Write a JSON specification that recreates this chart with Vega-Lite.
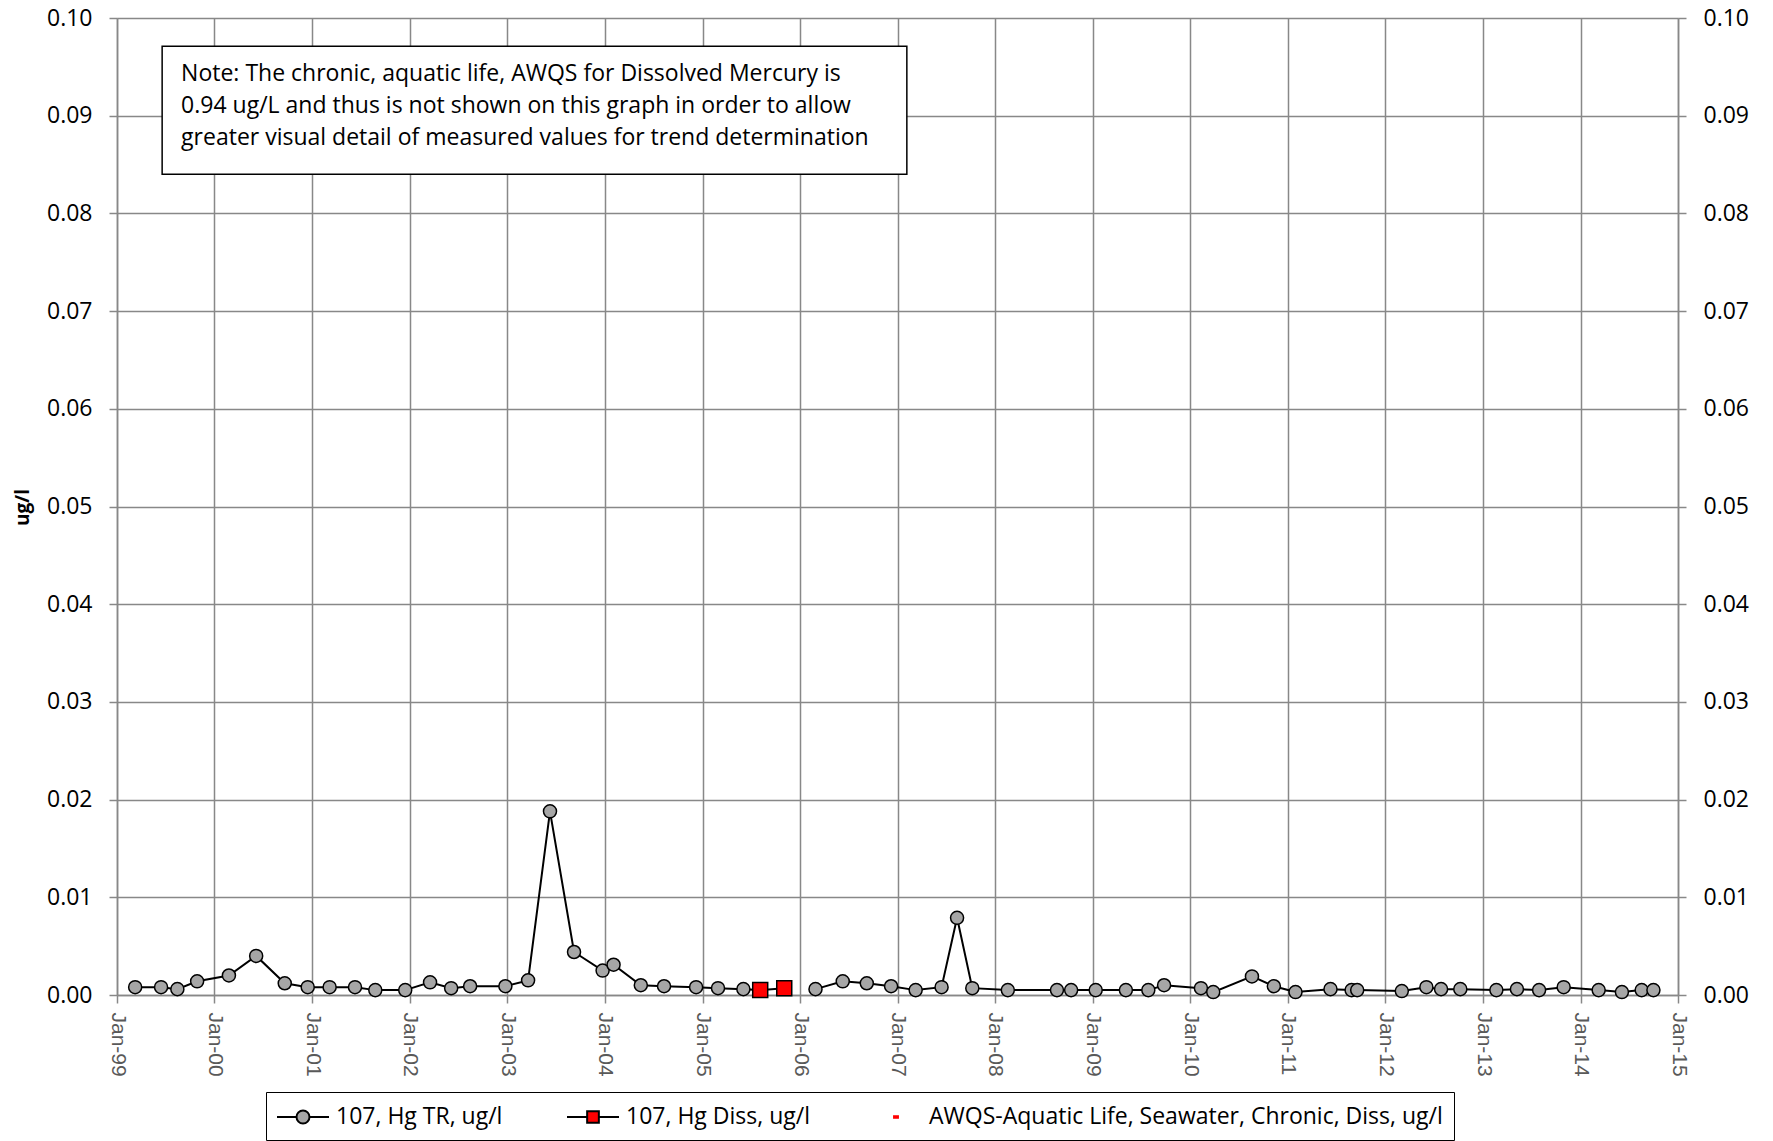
{
  "$schema": "https://vega.github.io/schema/vega-lite/v6.json",
  "width": 1561,
  "height": 977,
  "autosize": {"type": "none"},
  "padding": {"left": 117, "top": 18, "right": 95, "bottom": 146},
  "background": "white",
  "config": {
    "view": {"stroke": null},
    "font": "Open Sans",
    "axis": {
      "gridColor": "#888888", "gridWidth": 1.5, "gridOpacity": 1,
      "domainColor": "#888888", "domainWidth": 1.5,
      "tickColor": "#888888", "tickWidth": 1.5, "tickSize": 8
    },
    "axisX": {
      "labelAngle": 90, "labelAlign": "left", "labelBaseline": "middle",
      "labelFont": "Liberation Sans", "labelFontSize": 21, "labelColor": "#595959",
      "labelPadding": 9, "grid": true
    },
    "axisY": {
      "labelFont": "Open Sans", "labelFontSize": 23, "labelFontWeight": "normal", "labelColor": "black", "labelPadding": 17
    },
    "legend": {
      "orient": "none", "direction": "horizontal", "legendX": 149, "legendY": 1074,
      "padding": 11, "strokeColor": "black", "fillColor": "white",
      "columnPadding": 60,
      "labelFont": "Open Sans", "labelFontSize": 23, "labelColor": "black", "labelLimit": 800,
      "symbolSize": 676, "symbolOffset": 12, "labelOffset": 19, "symbolStrokeWidth": 2, "symbolOpacity": 1
    }
  },
  "data": {
    "values": [
      {"date": "1999-03-10", "value": 0.0008, "series": "107, Hg TR, ug/l"},
      {"date": "1999-06-15", "value": 0.0008, "series": "107, Hg TR, ug/l"},
      {"date": "1999-08-15", "value": 0.0006, "series": "107, Hg TR, ug/l"},
      {"date": "1999-10-28", "value": 0.0014, "series": "107, Hg TR, ug/l"},
      {"date": "2000-02-24", "value": 0.0020, "series": "107, Hg TR, ug/l"},
      {"date": "2000-06-05", "value": 0.0040, "series": "107, Hg TR, ug/l"},
      {"date": "2000-09-20", "value": 0.0012, "series": "107, Hg TR, ug/l"},
      {"date": "2000-12-15", "value": 0.0008, "series": "107, Hg TR, ug/l"},
      {"date": "2001-03-07", "value": 0.0008, "series": "107, Hg TR, ug/l"},
      {"date": "2001-06-10", "value": 0.0008, "series": "107, Hg TR, ug/l"},
      {"date": "2001-08-25", "value": 0.0005, "series": "107, Hg TR, ug/l"},
      {"date": "2001-12-15", "value": 0.0005, "series": "107, Hg TR, ug/l"},
      {"date": "2002-03-18", "value": 0.0013, "series": "107, Hg TR, ug/l"},
      {"date": "2002-06-05", "value": 0.0007, "series": "107, Hg TR, ug/l"},
      {"date": "2002-08-15", "value": 0.0009, "series": "107, Hg TR, ug/l"},
      {"date": "2002-12-25", "value": 0.0009, "series": "107, Hg TR, ug/l"},
      {"date": "2003-03-20", "value": 0.0015, "series": "107, Hg TR, ug/l"},
      {"date": "2003-06-10", "value": 0.0188, "series": "107, Hg TR, ug/l"},
      {"date": "2003-09-08", "value": 0.0044, "series": "107, Hg TR, ug/l"},
      {"date": "2003-12-24", "value": 0.0025, "series": "107, Hg TR, ug/l"},
      {"date": "2004-02-03", "value": 0.0031, "series": "107, Hg TR, ug/l"},
      {"date": "2004-05-15", "value": 0.0010, "series": "107, Hg TR, ug/l"},
      {"date": "2004-08-10", "value": 0.0009, "series": "107, Hg TR, ug/l"},
      {"date": "2004-12-08", "value": 0.0008, "series": "107, Hg TR, ug/l"},
      {"date": "2005-02-28", "value": 0.0007, "series": "107, Hg TR, ug/l"},
      {"date": "2005-06-03", "value": 0.0006, "series": "107, Hg TR, ug/l"},
      {"date": "2005-08-05", "value": 0.0005, "series": "107, Hg TR, ug/l"},
      {"date": "2005-11-03", "value": null, "series": "107, Hg TR, ug/l"},
      {"date": "2006-02-28", "value": 0.0006, "series": "107, Hg TR, ug/l"},
      {"date": "2006-06-10", "value": 0.0014, "series": "107, Hg TR, ug/l"},
      {"date": "2006-09-08", "value": 0.0012, "series": "107, Hg TR, ug/l"},
      {"date": "2006-12-08", "value": 0.0009, "series": "107, Hg TR, ug/l"},
      {"date": "2007-03-10", "value": 0.0005, "series": "107, Hg TR, ug/l"},
      {"date": "2007-06-15", "value": 0.0008, "series": "107, Hg TR, ug/l"},
      {"date": "2007-08-12", "value": 0.0079, "series": "107, Hg TR, ug/l"},
      {"date": "2007-10-08", "value": 0.0007, "series": "107, Hg TR, ug/l"},
      {"date": "2008-02-18", "value": 0.0005, "series": "107, Hg TR, ug/l"},
      {"date": "2008-08-20", "value": 0.0005, "series": "107, Hg TR, ug/l"},
      {"date": "2008-10-12", "value": 0.0005, "series": "107, Hg TR, ug/l"},
      {"date": "2009-01-12", "value": 0.0005, "series": "107, Hg TR, ug/l"},
      {"date": "2009-05-05", "value": 0.0005, "series": "107, Hg TR, ug/l"},
      {"date": "2009-07-28", "value": 0.0005, "series": "107, Hg TR, ug/l"},
      {"date": "2009-09-25", "value": 0.0010, "series": "107, Hg TR, ug/l"},
      {"date": "2010-02-10", "value": 0.0007, "series": "107, Hg TR, ug/l"},
      {"date": "2010-03-28", "value": 0.0003, "series": "107, Hg TR, ug/l"},
      {"date": "2010-08-20", "value": 0.0019, "series": "107, Hg TR, ug/l"},
      {"date": "2010-11-10", "value": 0.0009, "series": "107, Hg TR, ug/l"},
      {"date": "2011-01-30", "value": 0.0003, "series": "107, Hg TR, ug/l"},
      {"date": "2011-06-10", "value": 0.0006, "series": "107, Hg TR, ug/l"},
      {"date": "2011-08-28", "value": 0.0005, "series": "107, Hg TR, ug/l"},
      {"date": "2011-09-18", "value": 0.0005, "series": "107, Hg TR, ug/l"},
      {"date": "2012-03-03", "value": 0.0004, "series": "107, Hg TR, ug/l"},
      {"date": "2012-06-03", "value": 0.0008, "series": "107, Hg TR, ug/l"},
      {"date": "2012-07-28", "value": 0.0006, "series": "107, Hg TR, ug/l"},
      {"date": "2012-10-08", "value": 0.0006, "series": "107, Hg TR, ug/l"},
      {"date": "2013-02-20", "value": 0.0005, "series": "107, Hg TR, ug/l"},
      {"date": "2013-05-08", "value": 0.0006, "series": "107, Hg TR, ug/l"},
      {"date": "2013-07-30", "value": 0.0005, "series": "107, Hg TR, ug/l"},
      {"date": "2013-10-30", "value": 0.0008, "series": "107, Hg TR, ug/l"},
      {"date": "2014-03-10", "value": 0.0005, "series": "107, Hg TR, ug/l"},
      {"date": "2014-06-05", "value": 0.0003, "series": "107, Hg TR, ug/l"},
      {"date": "2014-08-18", "value": 0.0005, "series": "107, Hg TR, ug/l"},
      {"date": "2014-10-01", "value": 0.0005, "series": "107, Hg TR, ug/l"},
      {"date": "2005-08-05", "value": 0.0005, "series": "107, Hg Diss, ug/l"},
      {"date": "2005-11-03", "value": 0.0007, "series": "107, Hg Diss, ug/l"}
    ]
  },
  "resolve": {
    "axis": {"y": "independent"},
    "scale": {"shape": "independent", "fill": "independent", "stroke": "independent"}
  },
  "layer": [
    {
      "mark": {"type": "line", "color": "black", "strokeWidth": 2, "invalid": "break-paths-show-domains"},
      "encoding": {
        "x": {
          "field": "date", "type": "temporal",
          "scale": {"type": "utc", "domain": [{"year": 1999, "month": 1, "date": 1, "utc": true}, {"year": 2015, "month": 1, "date": 1, "utc": true}]},
          "axis": {
            "title": null, "format": "%b-%y",
            "values": [
              {"year": 1999, "month": 1, "date": 1, "utc": true}, {"year": 2000, "month": 1, "date": 1, "utc": true},
              {"year": 2001, "month": 1, "date": 1, "utc": true}, {"year": 2002, "month": 1, "date": 1, "utc": true},
              {"year": 2003, "month": 1, "date": 1, "utc": true}, {"year": 2004, "month": 1, "date": 1, "utc": true},
              {"year": 2005, "month": 1, "date": 1, "utc": true}, {"year": 2006, "month": 1, "date": 1, "utc": true},
              {"year": 2007, "month": 1, "date": 1, "utc": true}, {"year": 2008, "month": 1, "date": 1, "utc": true},
              {"year": 2009, "month": 1, "date": 1, "utc": true}, {"year": 2010, "month": 1, "date": 1, "utc": true},
              {"year": 2011, "month": 1, "date": 1, "utc": true}, {"year": 2012, "month": 1, "date": 1, "utc": true},
              {"year": 2013, "month": 1, "date": 1, "utc": true}, {"year": 2014, "month": 1, "date": 1, "utc": true},
              {"year": 2015, "month": 1, "date": 1, "utc": true}
            ]
          }
        },
        "y": {
          "field": "value", "type": "quantitative",
          "scale": {"domain": [0, 0.1], "nice": false, "zero": true},
          "axis": {
            "orient": "left", "grid": true, "format": ".2f",
            "values": [0, 0.01, 0.02, 0.03, 0.04, 0.05, 0.06, 0.07, 0.08, 0.09, 0.1],
            "title": "ug/l", "titleFont": "Open Sans", "titleFontSize": 19, "titleFontWeight": "bold", "titleColor": "black",
            "titleX": -95, "titleY": 489, "titleAngle": 270, "titleAlign": "center", "titleBaseline": "middle"
          }
        },
        "detail": {"field": "series"}
      }
    },
    {
      "mark": {"type": "point", "filled": true, "stroke": "black", "strokeWidth": 1.5, "opacity": 1},
      "encoding": {
        "x": {"field": "date", "type": "temporal", "axis": {"title": null}},
        "y": {
          "field": "value", "type": "quantitative",
          "axis": {
            "orient": "right", "grid": false, "format": ".2f", "title": null,
            "values": [0, 0.01, 0.02, 0.03, 0.04, 0.05, 0.06, 0.07, 0.08, 0.09, 0.1]
          }
        },
        "shape": {
          "field": "series",
          "scale": {"domain": ["107, Hg TR, ug/l", "107, Hg Diss, ug/l"], "range": ["circle", "square"]},
          "legend": null
        },
        "size": {
          "field": "series",
          "scale": {"domain": ["107, Hg TR, ug/l", "107, Hg Diss, ug/l"], "range": [170, 225]},
          "legend": null
        },
        "fill": {
          "field": "series",
          "scale": {"domain": ["107, Hg TR, ug/l", "107, Hg Diss, ug/l"], "range": ["#a6a6a6", "#ff0000"]},
          "legend": null
        }
      }
    },
    {
      "transform": [{"filter": "false"}],
      "mark": {"type": "point", "filled": true, "strokeWidth": 2, "opacity": 1},
      "encoding": {
        "x": {"field": "date", "type": "temporal", "axis": {"title": null}},
        "y": {"field": "value", "type": "quantitative", "axis": null},
        "shape": {
          "field": "series",
          "scale": {
            "domain": ["107, Hg TR, ug/l", "107, Hg Diss, ug/l", "AWQS-Aquatic Life, Seawater, Chronic, Diss, ug/l"],
            "range": [
              "M-2,0H-0.5M0.5,0H2M-0.5,0A0.5,0.5 0 1,1 0.5,0A0.5,0.5 0 1,1 -0.5,0Z",
              "M-2,0H-0.45M0.45,0H2M-0.45,-0.45H0.45V0.45H-0.45Z",
              "M-0.15,-0.06H0.15V0.06H-0.15Z"
            ]
          },
          "legend": {"title": null}
        },
        "fill": {
          "field": "series",
          "scale": {
            "domain": ["107, Hg TR, ug/l", "107, Hg Diss, ug/l", "AWQS-Aquatic Life, Seawater, Chronic, Diss, ug/l"],
            "range": ["#a6a6a6", "#ff0000", "#ff0000"]
          },
          "legend": {"title": null}
        },
        "stroke": {
          "field": "series",
          "scale": {
            "domain": ["107, Hg TR, ug/l", "107, Hg Diss, ug/l", "AWQS-Aquatic Life, Seawater, Chronic, Diss, ug/l"],
            "range": ["black", "black", "#ff0000"]
          },
          "legend": {"title": null}
        }
      }
    },
    {
      "data": {"values": [{}]},
      "mark": {"type": "rect", "fill": "white", "stroke": "black", "strokeWidth": 1.5},
      "encoding": {
        "x": {"datum": {"year": 1999, "month": 6, "date": 19, "utc": true}, "type": "temporal"},
        "x2": {"datum": {"year": 2007, "month": 2, "date": 5, "utc": true}},
        "y": {"datum": 0.0971, "type": "quantitative", "axis": null},
        "y2": {"datum": 0.0840}
      }
    },
    {
      "data": {"values": [{}]},
      "mark": {"type": "text", "align": "left", "baseline": "alphabetic", "font": "Open Sans", "fontSize": 23, "fontWeight": "normal", "fill": "black", "lineBreak": "\n", "lineHeight": 32},
      "encoding": {
        "x": {"datum": {"year": 1999, "month": 8, "date": 29, "utc": true}, "type": "temporal"},
        "y": {"datum": 0.09355, "type": "quantitative", "axis": null},
        "text": {"value": "Note: The chronic, aquatic life, AWQS for Dissolved Mercury is\n0.94 ug/L and thus is not shown on this graph in order to allow\ngreater visual detail of measured values for trend determination"}
      }
    }
  ]
}
